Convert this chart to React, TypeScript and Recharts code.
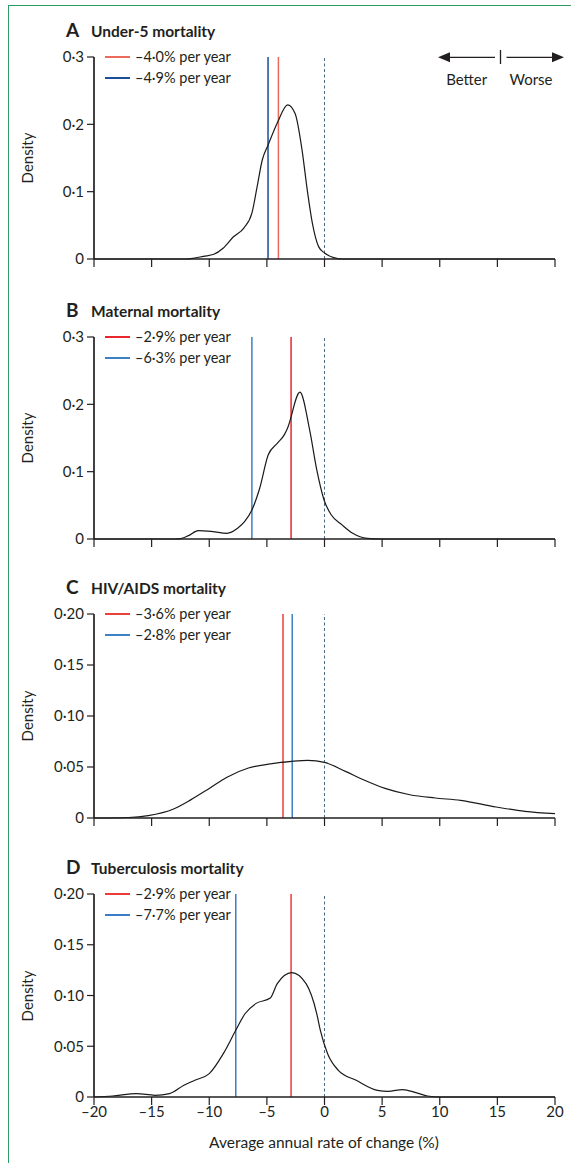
import React from 'react';
import { ComposedChart, Line, XAxis, YAxis, ReferenceLine } from 'recharts';

const FONT = 'Lato, "Open Sans", sans-serif';
const INK = '#231f20';

const xTicks = [-20, -15, -10, -5, 0, 5, 10, 15, 20];
const yTicksAB = [0, 0.1, 0.2, 0.3];
const yTicksCD = [0, 0.05, 0.1, 0.15, 0.2];

const panelLetters = ['A', 'B', 'C', 'D'];
const panelTitles = ['Under-5 mortality', 'Maternal mortality', 'HIV/AIDS mortality', 'Tuberculosis mortality'];
const redRates = [-4.0, -2.9, -3.6, -2.9];
const blueRates = [-4.9, -6.3, -2.8, -7.7];

const rateA = [-20, -12, -11.4, -10.5, -9.6, -8.8, -7.9, -7.0, -6.3, -5.85, -5.4, -4.9, -4.05, -3.2, -2.55, -1.95, -1.5, -1.05, -0.5, 0, 0.8, 1.5, 20];
const densityA = [0, 0, 0.001, 0.004, 0.007, 0.016, 0.033, 0.046, 0.068, 0.107, 0.147, 0.169, 0.204, 0.229, 0.216, 0.162, 0.103, 0.053, 0.018, 0.009, 0.002, 0, 0];

const rateB = [-20, -13, -12.5, -11.8, -10.95, -9.7, -8.47, -7.54, -6.92, -6.3, -5.63, -4.88, -4.1, -3.48, -3.2, -2.13, -1.29, -0.67, -0.04, 0.58, 1.52, 2.45, 3.7, 5, 20];
const densityB = [0, 0, 0.0005, 0.005, 0.0124, 0.011, 0.0085, 0.016, 0.026, 0.043, 0.075, 0.125, 0.142, 0.155, 0.165, 0.218, 0.162, 0.1025, 0.058, 0.036, 0.021, 0.0085, 0.001, 0, 0];

const rateC = [-20, -17, -15.3, -13.1, -11.58, -10, -8.46, -6.6, -4.7, -2.85, -1.45, 0, 1.82, 3.38, 5.25, 7.4, 9.6, 11.8, 14.9, 17.4, 20];
const densityC = [0, 0.0005, 0.0023, 0.0088, 0.018, 0.029, 0.04, 0.049, 0.053, 0.0555, 0.0565, 0.0545, 0.0457, 0.0375, 0.029, 0.0228, 0.0196, 0.0173, 0.0108, 0.0065, 0.0042];

const rateD = [-20, -18.4, -16.3, -14.7, -13.45, -12.2, -11.25, -10, -8.78, -7.7, -6.9, -5.97, -4.7, -4.1, -2.84, -1.6, -0.67, -0.36, 0.27, 1.2, 2.75, 4.6, 5.53, 6.78, 8.0, 8.94, 10, 20];
const densityD = [0, 0.001, 0.0033, 0.0017, 0.0033, 0.0115, 0.0165, 0.023, 0.0427, 0.0657, 0.082, 0.092, 0.0975, 0.1117, 0.1226, 0.1117, 0.082, 0.0657, 0.0427, 0.0263, 0.0165, 0.0066, 0.0056, 0.0073, 0.004, 0.001, 0, 0];

const fmtRate = (v: number) => `${v < 0 ? '–' : ''}${Math.abs(v).toFixed(1).replace('.', '·')}% per year`;
const fmtX = (v: number) => `${v < 0 ? '–' : ''}${Math.abs(v)}`;

type PanelProps = {
  idx: number;
  top: number;
  h: number;
  xs: number[];
  ds: number[];
  yTicks: number[];
  dec: number;
  redColor: string;
  blueColor: string;
  showX: boolean;
};

function Panel({ idx, top, h, xs, ds, yTicks, dec, redColor, blueColor, showX }: PanelProps) {
  const data = xs.map((x, i) => ({ x, d: ds[i] }));
  const MT = 10;
  const XH = 40;
  const yMax = yTicks[yTicks.length - 1];
  const fmtY = (v: number) => (v === 0 ? '0' : v.toFixed(dec).replace('.', '·'));
  const titleY = top - 27;
  const rows = [{ c: redColor, v: redRates[idx] }, { c: blueColor, v: blueRates[idx] }];
  return (
    <>
      <div style={{ position: 'absolute', left: 0, top: top - MT }}>
        <ComposedChart width={571} height={MT + h + XH} data={data} margin={{ top: MT, right: 16, bottom: 0, left: 0 }}>
          <XAxis
            type="number"
            dataKey="x"
            domain={[-20, 20]}
            ticks={xTicks}
            interval={0}
            height={XH}
            tickSize={8}
            tickMargin={1}
            stroke={INK}
            axisLine={{ stroke: INK, strokeWidth: 1.7 }}
            tickLine={{ stroke: INK, strokeWidth: 1.2 }}
            tick={{ fill: INK, fontSize: 15, fontFamily: FONT }}
            tickFormatter={showX ? fmtX : () => ''}
          />
          <YAxis
            type="number"
            domain={[0, yMax]}
            ticks={yTicks}
            interval={0}
            width={94}
            tickSize={7}
            tickMargin={3}
            axisLine={{ stroke: INK, strokeWidth: 1.7 }}
            tickLine={{ stroke: INK, strokeWidth: 1.2 }}
            tick={{ fill: INK, fontSize: 15, fontFamily: FONT }}
            tickFormatter={fmtY}
          />
          <ReferenceLine x={0} stroke="#4b6a80" strokeWidth={1} strokeDasharray="3 2.5" />
          <ReferenceLine x={redRates[idx]} stroke={redColor} strokeWidth={1.5} />
          <ReferenceLine x={blueRates[idx]} stroke={blueColor} strokeWidth={1.5} />
          <Line type="monotone" dataKey="d" stroke="#1a1a1a" strokeWidth={1.2} dot={false} isAnimationActive={false} />
        </ComposedChart>
      </div>
      <div style={{ position: 'absolute', left: 66, top: titleY - 12, height: 24, lineHeight: '24px', fontFamily: FONT, color: INK, fontWeight: 700, whiteSpace: 'nowrap' }}>
        <span style={{ fontSize: 19, display: 'inline-block', width: 25 }}>{panelLetters[idx]}</span>
        <span style={{ fontSize: 15.5 }}>{panelTitles[idx]}</span>
      </div>
      {rows.map((r, i) => (
        <div key={i} style={{ position: 'absolute', left: 105, top: Math.round(top + i * 20.5) - 10, width: 140, height: 20, lineHeight: '20px', fontFamily: FONT, color: INK, fontSize: 14.5, whiteSpace: 'nowrap', zIndex: 5 }}>
          <div style={{ position: 'absolute', left: 0, top: 9, width: 25, height: 2, background: r.c }} />
          <span style={{ position: 'absolute', left: 30, top: 0 }}>{fmtRate(r.v)}</span>
        </div>
      ))}
      <div style={{ position: 'absolute', left: 27 - 40, top: top + h / 2 - 10, width: 80, height: 20, lineHeight: '20px', textAlign: 'center', transform: 'rotate(-90deg)', fontFamily: FONT, fontSize: 15, color: INK }}>
        Density
      </div>
    </>
  );
}

function BetterWorse() {
  const y = 57.3;
  return (
    <svg width={571} height={100} style={{ position: 'absolute', left: 0, top: 0 }}>
      <line x1={446} y1={y} x2={495} y2={y} stroke={INK} strokeWidth={1.3} />
      <polygon points={`438,${y} 450,${y - 5} 450,${y + 5}`} fill={INK} />
      <line x1={500.5} y1={50} x2={500.5} y2={64} stroke={INK} strokeWidth={1.3} />
      <line x1={506.5} y1={y} x2={556} y2={y} stroke={INK} strokeWidth={1.3} />
      <polygon points={`564,${y} 552,${y - 5} 552,${y + 5}`} fill={INK} />
      <text x={466.7} y={85} textAnchor="middle" fontFamily={FONT} fontSize={15} fill={INK}>Better</text>
      <text x={531} y={85} textAnchor="middle" fontFamily={FONT} fontSize={15} fill={INK}>Worse</text>
    </svg>
  );
}

export default function App() {
  return (
    <div style={{ position: 'absolute', left: 0, top: 0, width: 571, height: 1163, background: '#fff', overflow: 'hidden' }}>
      <div style={{ position: 'absolute', left: 8, top: 5, width: 563, height: 1158, borderTop: '1px solid #2e9b64', borderLeft: '1px solid #2e9b64' }} />
      <BetterWorse />
      <Panel idx={0} top={57} h={202} xs={rateA} ds={densityA} yTicks={yTicksAB} dec={1} redColor="#ec6a5c" blueColor="#1b4e9b" showX={false} />
      <Panel idx={1} top={337} h={202} xs={rateB} ds={densityB} yTicks={yTicksAB} dec={1} redColor="#e8262b" blueColor="#3b82c4" showX={false} />
      <Panel idx={2} top={614} h={204} xs={rateC} ds={densityC} yTicks={yTicksCD} dec={2} redColor="#e8403a" blueColor="#3d82c4" showX={false} />
      <Panel idx={3} top={894} h={203} xs={rateD} ds={densityD} yTicks={yTicksCD} dec={2} redColor="#ec3b3b" blueColor="#3b7cc4" showX={true} />
      <div style={{ position: 'absolute', left: 324 - 150, top: 1142 - 11, width: 300, height: 22, lineHeight: '22px', textAlign: 'center', fontFamily: FONT, fontSize: 15.5, color: INK }}>
        Average annual rate of change (%)
      </div>
    </div>
  );
}
